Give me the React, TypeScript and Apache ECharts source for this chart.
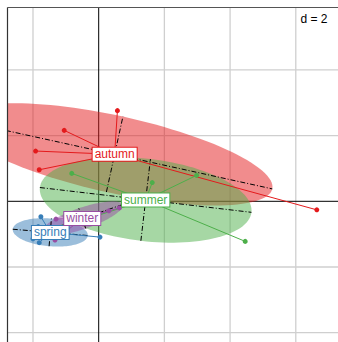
import React, { useEffect, useRef } from "react";
import * as echarts from "echarts";

// ---- data (principal-component scores, grouped by season) ----
const seasons = ["autumn", "spring", "summer", "winter"];
const seasonColors = ["#E41A1C", "#377EB8", "#4DAF4A", "#984EA3"];

const autumnX = [0.57, -1.05, -1.92, -1.81, 6.64];
const autumnY = [2.76, 2.16, 1.53, 0.96, -0.26];
const springX = [-1.76, -1.81, 0.04, -2.0, -1.84];
const springY = [-0.47, -1.26, -1.09, -1.14, -0.77];
const summerX = [-0.82, 1.63, 2.98, 4.46, -1.1];
const summerY = [0.85, 0.57, 0.79, -1.22, -0.78];
const winterX = [0.63, 0.31, -1.3, -0.81, -1.33];
const winterY = [-0.2, -0.29, -0.54, -0.4, -1.18];

const groupX = [autumnX, springX, summerX, winterX];
const groupY = [autumnY, springY, summerY, winterY];

const gridTicksX = [-2, 0, 2, 4, 6];
const gridTicksY = [-4, -2, 0, 2, 4];
const gridStepLabel = "d = 2";

const X_MIN = -2.782;
const X_MAX = 7.285;
const Y_MIN = -4.283;
const Y_MAX = 5.906;
const CELLIPSE = 1.5;

const FONT = "'Liberation Sans', Arial, sans-serif";

function classStats(xs: number[], ys: number[]) {
  const n = xs.length;
  const mx = xs.reduce((a, b) => a + b, 0) / n;
  const my = ys.reduce((a, b) => a + b, 0) / n;
  let vx = 0, vy = 0, cxy = 0;
  for (let i = 0; i < n; i++) {
    const dx = xs[i] - mx, dy = ys[i] - my;
    vx += dx * dx; vy += dy * dy; cxy += dx * dy;
  }
  vx /= n; vy /= n; cxy /= n;
  const t = vx + vy, det = vx * vy - cxy * cxy;
  const disc = Math.sqrt(Math.max(0, (t * t) / 4 - det));
  const l1 = t / 2 + disc, l2 = Math.max(0, t / 2 - disc);
  const theta = 0.5 * Math.atan2(2 * cxy, vx - vy);
  return { mx, my, a: CELLIPSE * Math.sqrt(l1), b: CELLIPSE * Math.sqrt(l2), theta };
}

const stats = seasons.map((_, i) => classStats(groupX[i], groupY[i]));

function hexToRgba(hex: string, a: number) {
  const r = parseInt(hex.slice(1, 3), 16);
  const g = parseInt(hex.slice(3, 5), 16);
  const b = parseInt(hex.slice(5, 7), 16);
  return `rgba(${r},${g},${b},${a})`;
}

export default function App() {
  const ref = useRef<HTMLDivElement>(null);
  useEffect(() => {
    if (!ref.current) return;
    const chart = echarts.init(ref.current, null, { renderer: "svg" });

    const centroidData = stats.map((s, i) => [s.mx, s.my, i]);

    const series: any[] = [];

    // grid lines
    series.push({
      type: "custom",
      coordinateSystem: "cartesian2d",
      data: [[0, 0]],
      clip: true,
      silent: true,
      z: 1,
      renderItem: (params: any, api: any) => {
        const children: any[] = [];
        gridTicksX.forEach((v) => {
          const p1 = api.coord([v, Y_MIN]);
          const p2 = api.coord([v, Y_MAX]);
          children.push({
            type: "line",
            shape: { x1: p1[0], y1: p1[1], x2: p2[0], y2: p2[1] },
            style: { stroke: v === 0 ? "#000000" : "#cfcfcf", lineWidth: v === 0 ? 1 : 1.3 },
            z2: v === 0 ? 2 : 1,
          });
        });
        gridTicksY.forEach((v) => {
          const p1 = api.coord([X_MIN, v]);
          const p2 = api.coord([X_MAX, v]);
          children.push({
            type: "line",
            shape: { x1: p1[0], y1: p1[1], x2: p2[0], y2: p2[1] },
            style: { stroke: v === 0 ? "#000000" : "#cfcfcf", lineWidth: v === 0 ? 1 : 1.3 },
            z2: v === 0 ? 2 : 1,
          });
        });
        return { type: "group", children };
      },
    });

    // ellipses (fill)
    series.push({
      type: "custom",
      coordinateSystem: "cartesian2d",
      data: centroidData,
      encode: { x: 0, y: 1 },
      clip: true,
      silent: true,
      z: 2,
      renderItem: (params: any, api: any) => {
        const i = params.dataIndex;
        const s = stats[i];
        const pts: number[][] = [];
        const N = 120;
        for (let k = 0; k < N; k++) {
          const t = (2 * Math.PI * k) / N;
          const x = s.mx + s.a * Math.cos(t) * Math.cos(s.theta) - s.b * Math.sin(t) * Math.sin(s.theta);
          const y = s.my + s.a * Math.cos(t) * Math.sin(s.theta) + s.b * Math.sin(t) * Math.cos(s.theta);
          pts.push(api.coord([x, y]));
        }
        return {
          type: "polygon",
          shape: { points: pts },
          style: { fill: hexToRgba(seasonColors[i], 0.5), stroke: "none" },
        };
      },
    });

    // ellipse axes (dot-dash)
    series.push({
      type: "custom",
      coordinateSystem: "cartesian2d",
      data: centroidData,
      encode: { x: 0, y: 1 },
      clip: true,
      silent: true,
      z: 3,
      renderItem: (params: any, api: any) => {
        const s = stats[params.dataIndex];
        const c = Math.cos(s.theta), sn = Math.sin(s.theta);
        const a1 = api.coord([s.mx - s.a * c, s.my - s.a * sn]);
        const a2 = api.coord([s.mx + s.a * c, s.my + s.a * sn]);
        const b1 = api.coord([s.mx + s.b * sn, s.my - s.b * c]);
        const b2 = api.coord([s.mx - s.b * sn, s.my + s.b * c]);
        const st = { stroke: "#000000", lineWidth: 1, lineDash: [5, 2, 1, 2] };
        return {
          type: "group",
          children: [
            { type: "line", shape: { x1: a1[0], y1: a1[1], x2: a2[0], y2: a2[1] }, style: st },
            { type: "line", shape: { x1: b1[0], y1: b1[1], x2: b2[0], y2: b2[1] }, style: st },
          ],
        };
      },
    });

    // stars
    series.push({
      type: "custom",
      coordinateSystem: "cartesian2d",
      data: centroidData,
      encode: { x: 0, y: 1 },
      clip: true,
      silent: true,
      z: 4,
      renderItem: (params: any, api: any) => {
        const i = params.dataIndex;
        const s = stats[i];
        const c = api.coord([s.mx, s.my]);
        const children = groupX[i].map((x, k) => {
          const p = api.coord([x, groupY[i][k]]);
          return {
            type: "line",
            shape: { x1: c[0], y1: c[1], x2: p[0], y2: p[1] },
            style: { stroke: seasonColors[i], lineWidth: 1 },
          };
        });
        return { type: "group", children };
      },
    });

    // points
    seasons.forEach((name, i) => {
      series.push({
        type: "scatter",
        name,
        data: groupX[i].map((x, k) => [x, groupY[i][k]]),
        symbol: "circle",
        symbolSize: 5,
        itemStyle: { color: seasonColors[i], opacity: 1 },
        silent: true,
        z: 5,
      });
    });

    // labels
    series.push({
      type: "custom",
      coordinateSystem: "cartesian2d",
      data: centroidData,
      encode: { x: 0, y: 1 },
      clip: false,
      silent: true,
      z: 6,
      renderItem: (params: any, api: any) => {
        const i = params.dataIndex;
        const s = stats[i];
        const c = api.coord([s.mx, s.my]);
        return {
          type: "text",
          x: c[0],
          y: c[1],
          style: {
            text: seasons[i],
            fill: seasonColors[i],
            font: `12px ${FONT}`,
            align: "center",
            verticalAlign: "middle",
            backgroundColor: "#ffffff",
            borderColor: seasonColors[i],
            borderWidth: 1,
            padding: [1, 2, 0, 2],
            lineHeight: 12,
          },
        };
      },
    });

    chart.setOption({
      animation: false,
      grid: { left: 7.3, top: 7.3, width: 330.7, height: 334.7, containLabel: false },
      xAxis: { type: "value", min: X_MIN, max: X_MAX, show: false },
      yAxis: { type: "value", min: Y_MIN, max: Y_MAX, show: false },
      series,
      graphic: [
        { type: "line", shape: { x1: 7.5, y1: 7.5, x2: 338, y2: 7.5 }, style: { stroke: "#555555", lineWidth: 1.2 }, z: 10 },
        { type: "line", shape: { x1: 7.5, y1: 7.5, x2: 7.5, y2: 342 }, style: { stroke: "#333333", lineWidth: 1.2 }, z: 10 },
        { type: "rect", shape: { x: 299, y: 11, width: 32, height: 16 }, style: { fill: "#ffffff" }, z: 10 },
        {
          type: "text",
          x: 314,
          y: 19,
          style: { text: gridStepLabel, fill: "#000000", font: `12px ${FONT}`, align: "center", verticalAlign: "middle" },
          z: 11,
        },
      ],
    });
    return () => chart.dispose();
  }, []);
  return (
    <div
      ref={ref}
      style={{ position: "absolute", left: 0, top: 0, width: 338, height: 342, background: "#ffffff" }}
    />
  );
}
